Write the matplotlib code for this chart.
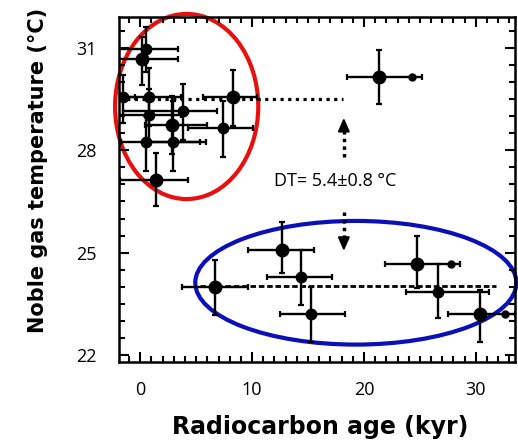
import matplotlib
matplotlib.use("Agg")
import matplotlib.pyplot as plt
import numpy as np
from matplotlib.patches import Ellipse
from matplotlib.ticker import MultipleLocator

# radiocarbon age (kyr) and noble gas temperature (C)
age = [0.55, 0.2, -1.5, 0.8, 8.3, 3.8, 0.8, 2.85, 7.4, 0.55, 2.95, 1.4,
       21.3, 6.7, 12.65, 14.35, 15.3, 24.7, 26.6, 30.4]
temp = [30.97, 30.68, 29.55, 29.55, 29.55, 29.15, 29.03, 28.74, 28.65, 28.25, 28.25, 27.14,
        30.14, 23.99, 25.07, 24.30, 23.20, 24.68, 23.86, 23.20]
age_lo = [-1.9, -1.9, -2.5, -1.9, 5.6, -1.5, -1.9, 0.4, 4.3, -1.7, 0.6, -1.8,
          18.5, 3.7, 9.6, 11.3, 12.5, 21.9, 23.8, 27.5]
age_hi = [3.4, 3.4, -0.5, 3.6, 10.4, 6.9, 3.6, 6.0, 10.1, 5.9, 5.3, 4.3,
          25.2, 9.6, 15.5, 17.1, 18.3, 28.6, 31.2, 33.5]
temp_lo = [30.3, 29.9, 28.8, 28.7, 28.7, 28.3, 28.2, 27.9, 27.8, 27.4, 27.4, 26.36,
           29.35, 23.18, 24.4, 23.47, 22.4, 23.96, 23.09, 22.4]
temp_hi = [31.6, 31.3, 30.2, 30.4, 30.35, 29.95, 29.8, 29.6, 29.45, 29.0, 29.45, 27.93,
           30.93, 24.78, 25.9, 25.07, 24.0, 25.5, 24.68, 23.9]
big = [False, True, False, False, True, False, False, True, False, False, False, True,
       True, True, True, False, False, True, False, True]

# small extra dots at the end of some error bars
small_age = [24.3, 27.8, 32.6]
small_temp = [30.14, 24.68, 23.2]

# group means
holocene_mean = 29.5
glacial_mean = 24.03

age = np.array(age)
temp = np.array(temp)
xerr = [age - np.array(age_lo), np.array(age_hi) - age]
yerr = [temp - np.array(temp_lo), np.array(temp_hi) - temp]

fig = plt.figure(figsize=(5.18, 4.45), dpi=100)
ax = fig.add_axes([0.2297, 0.1865, 0.7645, 0.7753])

ax.errorbar(age, temp, xerr=xerr, yerr=yerr, fmt='none', ecolor='black',
            elinewidth=1.7, capsize=2.5, capthick=1.6)
for b in (True, False):
    sel = np.array(big) == b
    ax.plot(age[sel], temp[sel], 'o', color='black', ms=9 if b else 7.5)
ax.plot(small_age, small_temp, 'o', color='black', ms=5)

# mean lines
ax.plot([-1.9, 18.1], [holocene_mean, holocene_mean], color='black', lw=2.3,
        linestyle=(0, (1, 1.4)))
ax.plot([5.3, 31.8], [glacial_mean, glacial_mean], color='black', lw=2.0,
        linestyle=(0, (2, 1)))

# DT arrows
ax.plot([18.2, 18.2], [27.8, 28.6], color='black', lw=2.5, linestyle=(0, (1, 1.2)))
ax.annotate('', xy=(18.2, 29.03), xytext=(18.2, 28.6),
            arrowprops=dict(arrowstyle='-|>,head_length=0.8,head_width=0.35',
                            color='black', lw=1.5))
ax.plot([18.2, 18.2], [26.2, 25.45], color='black', lw=2.5, linestyle=(0, (1, 1.2)))
ax.annotate('', xy=(18.2, 24.97), xytext=(18.2, 25.42),
            arrowprops=dict(arrowstyle='-|>,head_length=0.8,head_width=0.35',
                            color='black', lw=1.5))
ax.text(17.4, 27.1, 'DT= 5.4\u00b10.8 \u00b0C', ha='center', va='center',
        fontsize=13, family='Open Sans')

# hand drawn ellipses
ax.add_patch(Ellipse((4.15, 29.28), 12.8, 5.42, fill=False, edgecolor='#e8100e',
                     lw=3, clip_on=False))
ax.add_patch(Ellipse((19.27, 24.12), 28.7, 3.62, fill=False, edgecolor='#0a0fb8',
                     lw=3, clip_on=False))

ax.set_xlim(-1.9, 33.5)
ax.set_ylim(21.8, 31.9)
ax.set_xticks([0, 10, 20, 30])
ax.set_yticks([22, 25, 28, 31])
ax.xaxis.set_minor_locator(MultipleLocator(1))
ax.yaxis.set_minor_locator(MultipleLocator(0.5))
ax.tick_params(which='both', direction='in', top=True, right=True, width=1.5)
ax.tick_params(which='major', length=7, labelsize=13)
ax.tick_params(axis='x', which='major', pad=14)
ax.tick_params(axis='y', which='major', pad=16)
ax.tick_params(which='minor', length=4)
for lab in ax.get_xticklabels() + ax.get_yticklabels():
    lab.set_family('Open Sans')
for s in ax.spines.values():
    s.set_linewidth(1.8)

ax.set_xlabel('Radiocarbon age (kyr)', fontsize=17, fontweight='bold')
ax.xaxis.set_label_coords(0.507, -0.155)
ax.set_ylabel('Noble gas temperature (\u00b0C)', fontsize=15, fontweight='bold')
ax.yaxis.set_label_coords(-0.179, 0.554)

fig.savefig('out.png', dpi=100)
